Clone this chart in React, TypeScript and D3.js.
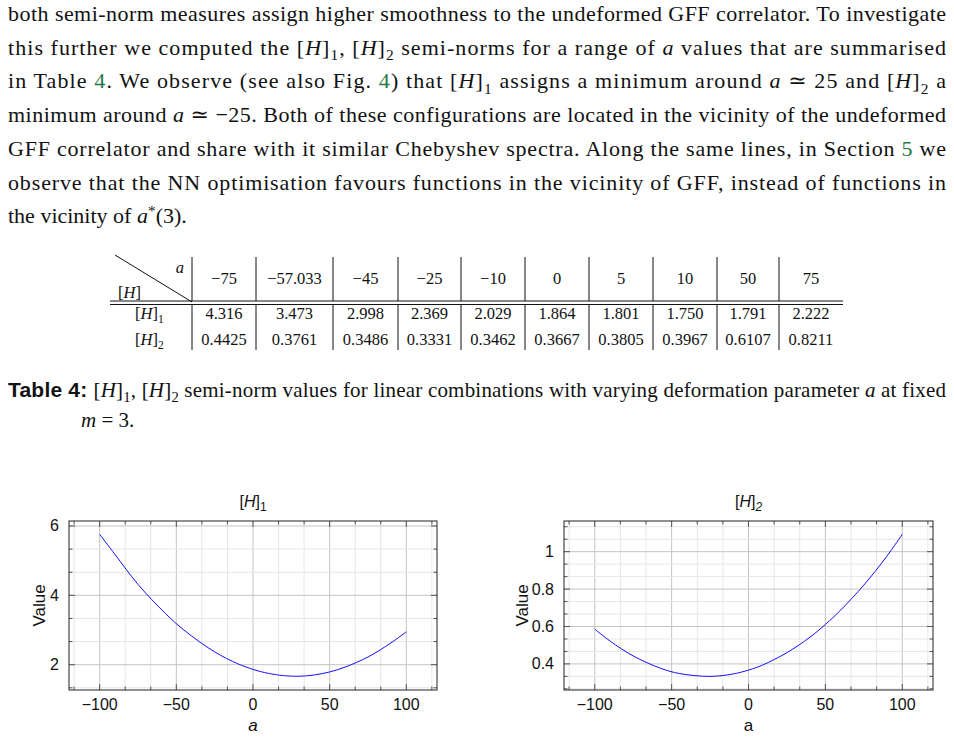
import * as d3 from "d3";

// table columns: deformation parameter a and the two semi-norms
const aColumns = [-75, -57.033, -45, -25, -10, 0, 5, 10, 50, 75];
const h1Table = [4.316, 3.473, 2.998, 2.369, 2.029, 1.864, 1.801, 1.75, 1.791, 2.222];
const h2Table = [0.4425, 0.3761, 0.3486, 0.3331, 0.3462, 0.3667, 0.3805, 0.3967, 0.6107, 0.8211];

// sampled curves for the two panels
const h1A = [-100, -90, -75, -57.033, -45, -25, -10, 0, 5, 10, 20, 30, 40, 50, 60, 75, 90, 100];
const h1Curve = [5.76, 5.18, 4.316, 3.473, 2.998, 2.369, 2.029, 1.864, 1.801, 1.75, 1.683, 1.667, 1.704, 1.791, 1.93, 2.222, 2.63, 2.95];
const h2A = [-100, -90, -75, -57.033, -45, -25, -10, 0, 5, 10, 25, 40, 50, 60, 75, 90, 100];
const h2Curve = [0.586, 0.522, 0.4425, 0.3761, 0.3486, 0.3331, 0.3462, 0.3667, 0.3805, 0.3967, 0.46, 0.543, 0.6107, 0.688, 0.8211, 0.976, 1.093];

const xTicks = [-100, -50, 0, 50, 100];
const h1Ticks = [2, 4, 6];
const h2Ticks = [0.4, 0.6, 0.8, 1];

const SERIF = "'Liberation Serif', 'DejaVu Serif', serif";
const SANS = "'Liberation Sans', Arial, sans-serif";
const LINK = "#1f7a45";

type Seg = { t: string; i?: boolean; sub?: boolean; sup?: boolean; c?: string; b?: boolean; sans?: boolean };

const H = (n: string): Seg[] => [{ t: "[" }, { t: "H", i: true }, { t: "]" }, { t: n, sub: true }];

const Rich = ({ x, y, segs, size, width }: { x: number; y: number; segs: Seg[]; size: number; width?: number }) => {
  let shift = 0;
  const spans = segs.map((s, k) => {
    const target = s.sub ? size * 0.25 : s.sup ? -size * 0.32 : 0;
    const dy = target - shift;
    shift = target;
    return (
      <tspan
        key={k}
        dy={dy}
        fontStyle={s.i ? "italic" : undefined}
        fontWeight={s.b ? "bold" : undefined}
        fontFamily={s.sans ? SANS : undefined}
        fontSize={s.sub || s.sup ? size * 0.7 : undefined}
        fill={s.c}
      >
        {s.t}
      </tspan>
    );
  });
  return (
    <text x={x} y={y} fontSize={size} fontFamily={SERIF} fill="#111" style={{ whiteSpace: "pre" }}
      textLength={width} lengthAdjust={width ? "spacing" : undefined}>
      {spans}
    </text>
  );
};

const paragraph: Seg[][] = [
  [{ t: "both semi-norm measures assign higher smoothness to the undeformed GFF correlator. To investigate" }],
  [{ t: "this further we computed the " }, ...H("1"), { t: ", " }, ...H("2"), { t: " semi-norms for a range of " }, { t: "a", i: true }, { t: " values that are summarised" }],
  [{ t: "in Table " }, { t: "4", c: LINK }, { t: ". We observe (see also Fig. " }, { t: "4", c: LINK }, { t: ") that " }, ...H("1"), { t: " assigns a minimum around " }, { t: "a", i: true }, { t: " ≃ 25 and " }, ...H("2"), { t: " a" }],
  [{ t: "minimum around " }, { t: "a", i: true }, { t: " ≃ −25. Both of these configurations are located in the vicinity of the undeformed" }],
  [{ t: "GFF correlator and share with it similar Chebyshev spectra. Along the same lines, in Section " }, { t: "5", c: LINK }, { t: " we" }],
  [{ t: "observe that the NN optimisation favours functions in the vicinity of GFF, instead of functions in" }],
  [{ t: "the vicinity of " }, { t: "a", i: true }, { t: "*", sup: true }, { t: "(3)." }],
];

const colEdges = [110, 192, 256, 333, 398, 461, 525, 589, 653, 717, 779, 843];

const Table = () => {
  const fmtA = d3.format("");
  const f1 = d3.format(".3f");
  const f2 = d3.format(".4f");
  const mid = (i: number) => (colEdges[i + 1] + colEdges[i + 2]) / 2;
  return (
    <g fontFamily={SERIF} fontSize={16.5} fill="#111">
      <line x1={115} y1={255} x2={192} y2={302} stroke="#111" strokeWidth={1} />
      <text x={184} y={273} textAnchor="end" fontStyle="italic">a</text>
      <Rich x={118} y={298} size={16.5} segs={[{ t: "[" }, { t: "H", i: true }, { t: "]" }]} />
      {colEdges.slice(1, -1).map((cx, i) => (
        <g key={i}>
          <line x1={cx} x2={cx} y1={257} y2={301} stroke="#111" />
          <line x1={cx} x2={cx} y1={304} y2={350} stroke="#111" />
        </g>
      ))}
      <line x1={110} x2={843} y1={301} y2={301} stroke="#111" />
      <line x1={110} x2={843} y1={304.5} y2={304.5} stroke="#111" />
      {aColumns.map((a, i) => (
        <text key={`a${i}`} x={mid(i)} y={284} textAnchor="middle">{fmtA(a)}</text>
      ))}
      {h1Table.map((v, i) => (
        <text key={`h1${i}`} x={mid(i)} y={319} textAnchor="middle">{f1(v)}</text>
      ))}
      {h2Table.map((v, i) => (
        <text key={`h2${i}`} x={mid(i)} y={345} textAnchor="middle">{f2(v)}</text>
      ))}
      <Rich x={135} y={319} size={16.5} segs={H("1")} />
      <Rich x={135} y={345} size={16.5} segs={H("2")} />
    </g>
  );
};

type PanelProps = {
  left: number; right: number; top: number; bottom: number;
  yDomain: [number, number]; yStep: number; yTicks: number[];
  xs: number[]; ys: number[]; sub: string; italicA: boolean; valueX: number;
};

const Panel = ({ left, right, top, bottom, yDomain, yStep, yTicks, xs, ys, sub, italicA, valueX }: PanelProps) => {
  const x = d3.scaleLinear().domain([-120, 120]).range([left, right]);
  const y = d3.scaleLinear().domain(yDomain).range([bottom, top]);
  const xStep = 50 / 3;
  const xGrid = d3.range(Math.ceil(-120 / xStep), Math.floor(120 / xStep) + 1);
  const yGrid = d3.range(Math.ceil(yDomain[0] / yStep - 1e-9), Math.floor(yDomain[1] / yStep + 1e-9) + 1);
  const line = d3.line<number>()
    .x((_, i) => x(xs[i]))
    .y(d => y(d))
    .curve(d3.curveCatmullRom.alpha(0.5));
  const fmt = d3.format("~g");
  const cx = (left + right) / 2;
  const cy = (top + bottom) / 2;

  return (
    <g fontFamily={SANS} fill="#111">
      <rect x={left} y={top} width={right - left} height={bottom - top} fill="#fff" />
      {xGrid.map(i => (
        <line key={`gx${i}`} x1={x(i * xStep)} x2={x(i * xStep)} y1={top} y2={bottom}
          stroke={i % 3 === 0 ? "#c4c4c4" : "#e6e6e6"} strokeWidth={1} />
      ))}
      {yGrid.map(i => (
        <line key={`gy${i}`} x1={left} x2={right} y1={y(i * yStep)} y2={y(i * yStep)}
          stroke={i % 3 === 0 ? "#c4c4c4" : "#e6e6e6"} strokeWidth={1} />
      ))}
      {xGrid.map(i => {
        const len = i % 3 === 0 ? 6 : 3.5;
        const px = x(i * xStep);
        return (
          <g key={`tx${i}`} stroke="#555">
            <line x1={px} x2={px} y1={bottom} y2={bottom - len} />
            <line x1={px} x2={px} y1={top} y2={top + len} />
          </g>
        );
      })}
      {yGrid.map(i => {
        const len = i % 3 === 0 ? 6 : 3.5;
        const py = y(i * yStep);
        return (
          <g key={`ty${i}`} stroke="#555">
            <line x1={left} x2={left + len} y1={py} y2={py} />
            <line x1={right} x2={right - len} y1={py} y2={py} />
          </g>
        );
      })}
      <path d={line(ys) ?? ""} fill="none" stroke="#1010ff" strokeWidth={1} />
      <rect x={left} y={top} width={right - left} height={bottom - top} fill="none" stroke="#222" strokeWidth={1} />
      {xTicks.map(v => (
        <text key={`lx${v}`} x={x(v)} y={bottom + 20} textAnchor="middle" fontSize={16}>{fmt(v)}</text>
      ))}
      {yTicks.map(v => (
        <text key={`ly${v}`} x={left - 10} y={y(v) + 5.5} textAnchor="end" fontSize={16}>{fmt(v)}</text>
      ))}
      <text x={cx} y={507} textAnchor="middle" fontSize={16} style={{ whiteSpace: "pre" }}>
        <tspan>[</tspan>
        <tspan fontStyle="italic">H</tspan>
        <tspan>]</tspan>
        <tspan dy={4} fontSize={12} fontStyle={italicA ? undefined : "italic"}>{sub}</tspan>
      </text>
      <text x={cx} y={731} textAnchor="middle" fontSize={17} fontStyle={italicA ? "italic" : undefined}>a</text>
      <text transform={`translate(${valueX},${cy}) rotate(-90)`} textAnchor="middle" fontSize={17}>Value</text>
    </g>
  );
};

const App = () => (
  <svg width={954} height={738} style={{ position: "absolute", left: 0, top: 0, background: "#fff" }}>
    {paragraph.map((segs, i) => (
      <Rich key={i} x={8} y={21 + i * 33.7} size={22} segs={segs} width={i < paragraph.length - 1 ? 938 : undefined} />
    ))}
    <Table />
    <Rich x={8} y={397} size={21} width={938}
      segs={[{ t: "Table 4: ", b: true, sans: true }, ...H("1"), { t: ", " }, ...H("2"),
        { t: " semi-norm values for linear combinations with varying deformation parameter " }, { t: "a", i: true }, { t: " at fixed" }]} />
    <Rich x={81} y={427} size={21} segs={[{ t: "m", i: true }, { t: " = 3." }]} />
    <Panel left={69} right={437} top={521} bottom={690} yDomain={[1.27, 6.144]} yStep={2 / 3} yTicks={h1Ticks}
      xs={h1A} ys={h1Curve} sub="1" italicA={true} valueX={45} />
    <Panel left={564} right={933} top={521} bottom={690} yDomain={[0.2604, 1.164]} yStep={0.2 / 3} yTicks={h2Ticks}
      xs={h2A} ys={h2Curve} sub="2" italicA={false} valueX={528} />
  </svg>
);

export default App;
